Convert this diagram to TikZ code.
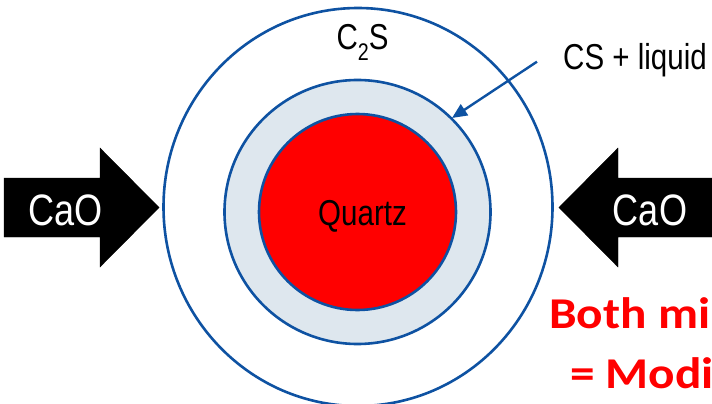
\documentclass[tikz,border=0pt]{standalone}
\usepackage{fontspec}
\setmainfont{Liberation Sans}
\newfontfamily\narrowsf[FakeStretch=0.82]{Liberation Sans}
\newfontfamily\calibrisf[FakeStretch=1.12]{Carlito}
\usetikzlibrary{arrows.meta, calc, positioning}
\definecolor{ringblue}{RGB}{14,82,162}
\definecolor{shellgray}{RGB}{222,231,238}
\definecolor{quartzred}{RGB}{255,0,0}

\begin{document}
\begin{tikzpicture}[
    x=1pt, y=-1pt,
    % Styles
    ring/.style={draw=ringblue, line width=2.6pt},
    bigarrow/.style={fill=black},
    caolbl/.style={text=white, font=\narrowsf\fontsize{44}{48}\selectfont, inner sep=0pt, anchor=base},
    phaselbl/.style={font=\narrowsf\fontsize{36}{40}\selectfont, inner sep=0pt},
    notelbl/.style={text=quartzred, font=\calibrisf\bfseries\fontsize{44}{48}\selectfont, inner sep=0pt, anchor=base west},
    arrow/.style={-{Triangle[length=15pt, width=13pt]}, draw=ringblue, line width=2.4pt}
]
\useasboundingbox (0,0) rectangle (712,404);
\clip (0,0) rectangle (712,404);

% 1. GRAIN (C2S rim, CS + liquid shell, quartz core)
\coordinate (core) at (357.5,212);
\draw[ring] (358,207) ellipse [x radius=194.5, y radius=199];
\draw[ring, fill=shellgray] (core) ellipse [x radius=133, y radius=132];
\draw[ring, fill=quartzred] (core) ellipse [x radius=98.5, y radius=98];

\node[phaselbl, anchor=base] (quartz) at (362.5,225) {Quartz};
\node[phaselbl, anchor=base] (c2s) at (362.5,50) {C\raisebox{-10pt}{\fontsize{24}{24}\selectfont 2}S};

% 2. CaO ARROWS
\draw[bigarrow] (4,178) -- (100,178) -- (100,148) -- (159,207.5) -- (100,267) -- (100,237) -- (4,237) -- cycle;
\draw[bigarrow] (722,178) -- (618,178) -- (618,148) -- (559,207.5) -- (618,267) -- (618,237) -- (722,237) -- cycle;

\node[caolbl] (cao_l) at (65.5,225) {CaO};
\node[caolbl] (cao_r) at (650,225) {CaO};

% 3. SHELL LABEL
\node[phaselbl, anchor=base west] (liquid) at (563,70) {CS + liquid};
\coordinate (liqtip) at (452,118);
\draw[arrow] ([xshift=-26pt, yshift=-1pt]liquid.west) -- (liqtip);

% 4. NOTE
\node[notelbl] (note1) at (549,328) {Both min};
\node[notelbl] (note2) at (570,388) {= Modif};

\end{tikzpicture}
\end{document}
